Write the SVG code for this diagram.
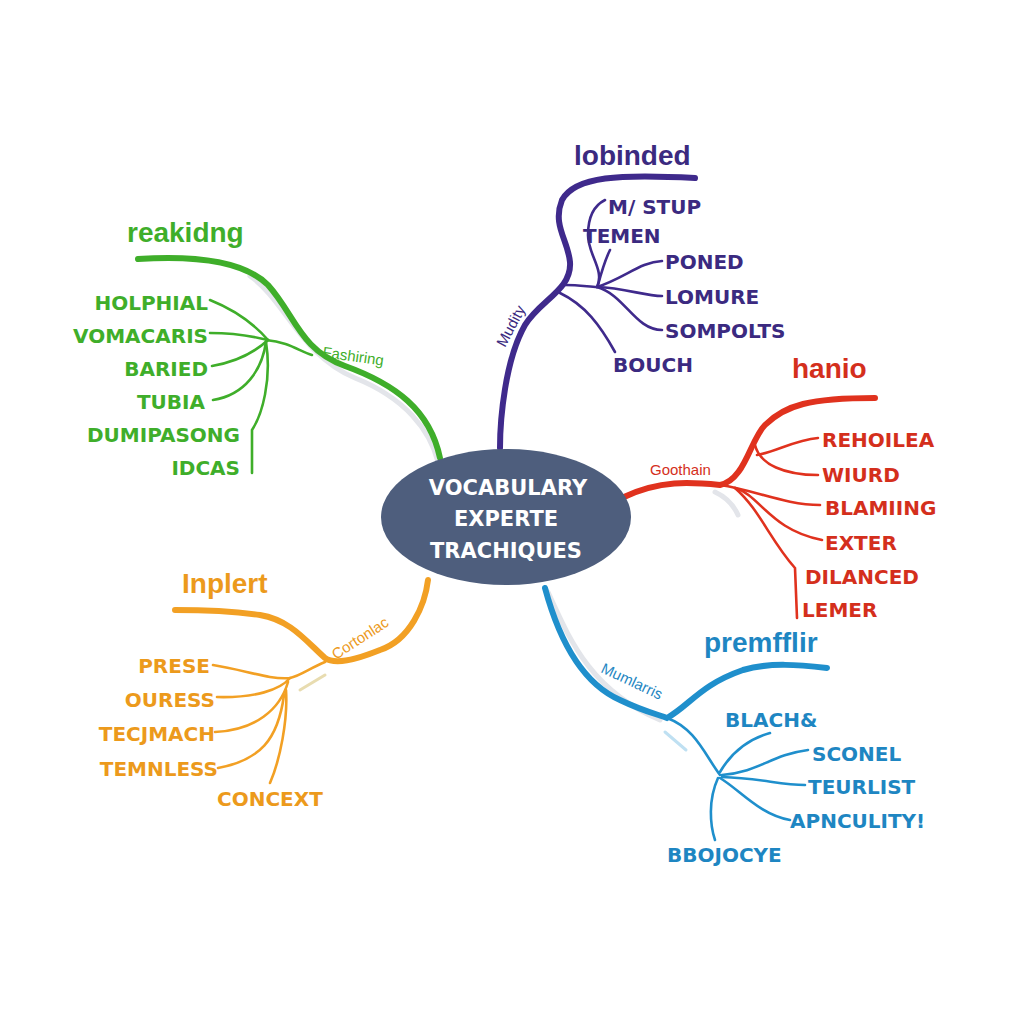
<svg xmlns="http://www.w3.org/2000/svg" width="1024" height="1024" viewBox="0 0 1024 1024">
<style>
.lbl{font-family:"DejaVu Sans","Liberation Sans",sans-serif;font-weight:bold;font-size:20px}
.ttl{font-family:"Liberation Sans",Arial,sans-serif;font-weight:bold;font-size:28px}
.sm{font-family:"Liberation Sans",Arial,sans-serif;font-size:15px}
.main{fill:none;stroke-width:6;stroke-linecap:round}
.sub{fill:none;stroke-width:2.6;stroke-linecap:round}
.sh{fill:none;stroke:#e3e5ea;stroke-width:5;stroke-linecap:round}
.g{stroke:#3fae2a}.gt{fill:#3fae2a}
.p{stroke:#3f2a8c}.pt{fill:#3b2a80}
.r{stroke:#e0321e}.rt{fill:#d42f1c}
.o{stroke:#f2a024}.ot{fill:#ec9a1c}
.b{stroke:#1f8fcc}.bt{fill:#1e86c2}
</style>
<rect width="1024" height="1024" fill="#ffffff"/>
<g id="connectors">
  <!-- shadows -->
  <path class="sh" d="M250,276 C285,300 300,355 355,378 C405,398 430,430 438,462"/>
  <path class="sh" d="M715,492 C728,498 734,506 738,515"/>
  <path class="sh" d="M548,592 C570,640 590,690 660,720"/>
  <path d="M300,690 L325,675" stroke="#e8dcb0" stroke-width="3" stroke-linecap="round"/>
  <path d="M665,732 L686,750" stroke="#bfe0f2" stroke-width="3" stroke-linecap="round"/>
  <!-- green -->
  <path class="main g" d="M138,259 C200,255 245,262 268,285 C295,315 300,350 345,366 C395,384 430,410 440,458"/>
  <path class="sub g" d="M210,300 C235,310 255,325 268,340"/>
  <path class="sub g" d="M210,333 C235,333 252,336 268,340"/>
  <path class="sub g" d="M212,366 C235,362 255,352 268,340"/>
  <path class="sub g" d="M213,400 C245,395 262,370 266,342"/>
  <path class="sub g" d="M266,342 C272,380 262,415 252,430 L252,473"/>
  <path class="sub g" d="M266,340 C290,342 300,352 312,355"/>
  <!-- purple -->
  <path class="main p" d="M500,448 C500,420 505,360 525,325 C540,300 572,290 570,262 C568,240 552,225 562,200 C575,176 620,174 695,178"/>
  <path class="sub p" d="M597,287 C625,278 640,262 662,261"/>
  <path class="sub p" d="M597,287 C625,288 645,296 662,296"/>
  <path class="sub p" d="M597,287 C625,295 635,330 662,330"/>
  <path class="sub p" d="M560,293 C585,305 600,325 615,352"/>
  <path class="sub p" d="M597,287 C605,270 588,255 588,235 C588,215 595,205 605,200"/>
  <path class="sub p" d="M598,285 C602,270 605,260 610,250"/>
  <path class="sub p" d="M565,285 C580,285 590,287 597,287"/>
  <!-- red -->
  <path class="main r" d="M624,497 C660,480 690,482 720,485 C745,480 750,440 765,425 C785,405 810,398 875,398"/>
  <path class="sub r" d="M757,455 C775,452 795,440 818,438"/>
  <path class="sub r" d="M755,445 C760,465 785,475 818,475"/>
  <path class="sub r" d="M720,485 C755,490 785,505 820,505"/>
  <path class="sub r" d="M735,488 C760,495 770,530 822,540"/>
  <path class="sub r" d="M735,488 C760,510 770,540 795,568 L797,618"/>
  <!-- orange -->
  <path class="main o" d="M428,580 C425,605 410,640 380,650 C355,660 335,665 325,658 C305,640 290,620 260,615 C225,610 190,610 175,610"/>
  <path class="sub o" d="M213,665 C245,670 270,680 290,678 C300,676 310,668 325,662"/>
  <path class="sub o" d="M217,697 C255,698 280,690 290,678"/>
  <path class="sub o" d="M215,732 C255,730 280,710 288,682"/>
  <path class="sub o" d="M218,768 C260,760 278,740 284,695"/>
  <path class="sub o" d="M270,783 C280,760 288,720 286,690"/>
  <!-- blue -->
  <path class="main b" d="M545,588 C555,625 575,680 620,700 C645,712 660,715 667,718 C690,705 700,685 743,670 C770,662 800,665 827,668"/>
  <path class="sub b" d="M667,718 C695,728 705,755 720,775"/>
  <path class="sub b" d="M720,772 C730,755 745,740 770,733"/>
  <path class="sub b" d="M722,775 C760,772 770,755 808,750"/>
  <path class="sub b" d="M722,777 C760,778 780,785 805,785"/>
  <path class="sub b" d="M720,778 C740,790 760,815 790,820"/>
  <path class="sub b" d="M718,778 C708,800 710,825 715,840"/>
</g>
<g id="center">
  <ellipse cx="506" cy="517" rx="125" ry="68" fill="#4e5e7d"/>
  <g font-family="'DejaVu Sans','Liberation Sans',sans-serif" font-weight="bold" font-size="21" fill="#ffffff" text-anchor="middle">
    <text x="508" y="495">VOCABULARY</text>
    <text x="506" y="526">EXPERTE</text>
    <text x="506" y="558">TRACHIQUES</text>
  </g>
</g>
<g id="green-branch">
  <text class="ttl gt" x="127" y="242">reakidng</text>
  <text class="sm gt" x="322" y="357" transform="rotate(8 322 357)">Fashiring</text>
  <g class="lbl gt" text-anchor="end">
    <text x="208" y="310">HOLPHIAL</text>
    <text x="208" y="343">VOMACARIS</text>
    <text x="208" y="376">BARIED</text>
    <text x="205" y="409">TUBIA</text>
    <text x="240" y="442">DUMIPASONG</text>
    <text x="240" y="475">IDCAS</text>
  </g>
</g>
<g id="purple-branch">
  <text class="ttl pt" x="574" y="165">lobinded</text>
  <text class="sm pt" x="505" y="348" transform="rotate(-62 505 348)">Mudity</text>
  <g class="lbl pt">
    <text x="608" y="214">M/ STUP</text>
    <text x="583" y="243">TEMEN</text>
    <text x="665" y="269">PONED</text>
    <text x="665" y="304">LOMURE</text>
    <text x="665" y="338">SOMPOLTS</text>
    <text x="613" y="372">BOUCH</text>
  </g>
</g>
<g id="red-branch">
  <text class="ttl rt" x="792" y="378">hanio</text>
  <text class="sm rt" x="650" y="475">Goothain</text>
  <g class="lbl rt">
    <text x="822" y="447">REHOILEA</text>
    <text x="822" y="482">WIURD</text>
    <text x="825" y="515">BLAMIING</text>
    <text x="825" y="550">EXTER</text>
    <text x="805" y="584">DILANCED</text>
    <text x="802" y="617">LEMER</text>
  </g>
</g>
<g id="orange-branch">
  <text class="ttl ot" x="182" y="593">Inplert</text>
  <text class="sm ot" x="336" y="660" transform="rotate(-33 336 660)">Cortonlac</text>
  <g class="lbl ot" text-anchor="end">
    <text x="210" y="673">PRESE</text>
    <text x="215" y="707">OURESS</text>
    <text x="215" y="741">TECJMACH</text>
    <text x="218" y="776">TEMNLESS</text>
  </g>
  <text class="lbl ot" x="217" y="806">CONCEXT</text>
</g>
<g id="blue-branch">
  <text class="ttl bt" x="704" y="652">premfflir</text>
  <text class="sm bt" x="600" y="672" transform="rotate(25 600 672)">Mumlarris</text>
  <g class="lbl bt">
    <text x="725" y="727">BLACH&amp;</text>
    <text x="812" y="761">SCONEL</text>
    <text x="808" y="794">TEURLIST</text>
    <text x="790" y="828">APNCULITY!</text>
    <text x="667" y="862">BBOJOCYE</text>
  </g>
</g>
</svg>
